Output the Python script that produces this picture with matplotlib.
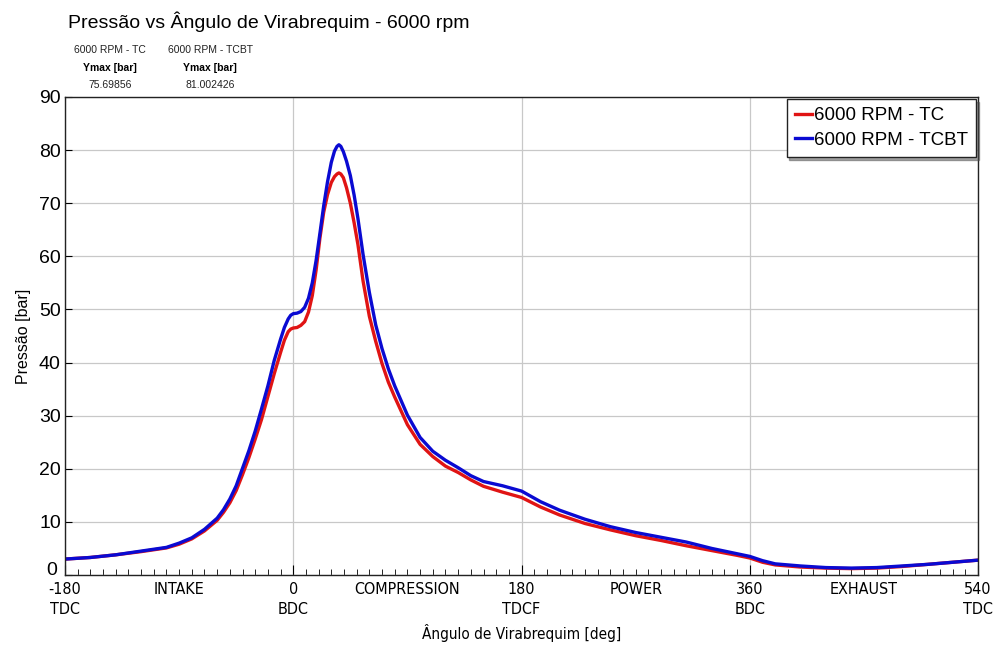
import matplotlib.pyplot as plt
from matplotlib import font_manager
from matplotlib.ticker import MultipleLocator, FixedLocator, FuncFormatter
import matplotlib.transforms as mtransforms

# crank angle [deg] shared by both runs
angle = [-180, -160, -140, -120, -100, -90, -80, -70, -60, -55, -50, -45, -40, -35, -30,
         -25, -20, -15, -10, -7, -4, -2, 0, 3, 6, 9, 12, 15, 18, 21, 24, 27, 30, 32.5, 34.5,
         36, 37.5, 39.5, 42, 45, 48, 51, 55, 60, 65, 70, 75, 80, 90, 100, 110, 120, 130,
         140, 150, 165, 180, 195, 210, 230, 250, 270, 290, 310, 330, 350, 360, 370, 380,
         400, 420, 440, 460, 480, 500, 520, 540]

# cylinder pressure [bar]
p_tc = [3.0, 3.3, 3.8, 4.4, 5.1, 5.8, 6.8, 8.3, 10.3, 11.8, 13.6, 15.9, 18.9, 22.1, 25.6,
        29.3, 33.6, 37.9, 41.9, 44.2, 45.8, 46.3, 46.5, 46.6, 47.0, 47.7, 49.5, 52.6, 57.4,
        63.4, 68.3, 71.6, 73.9, 75.0, 75.5, 75.69856, 75.5, 74.8, 72.9, 70.0, 66.3, 62.2,
        55.4, 48.7, 44.0, 39.8, 36.3, 33.5, 28.3, 24.6, 22.3, 20.5, 19.3, 17.9, 16.7, 15.6,
        14.6, 12.8, 11.3, 9.7, 8.5, 7.4, 6.5, 5.5, 4.6, 3.7, 3.2, 2.4, 1.9, 1.5, 1.3, 1.2,
        1.3, 1.6, 2.0, 2.4, 2.8]

p_tcbt = [3.0, 3.3, 3.8, 4.5, 5.2, 6.0, 7.0, 8.6, 10.7, 12.3, 14.3, 16.8, 20.1, 23.4, 27.1,
          31.3, 35.6, 40.4, 44.4, 46.6, 48.2, 48.9, 49.2, 49.3, 49.6, 50.4, 52.1, 55.0, 59.2,
          64.3, 69.5, 74.0, 77.7, 79.8, 80.7, 81.002426, 80.7, 79.7, 77.9, 75.2, 71.5, 67.1,
          60.4, 53.2, 47.1, 42.6, 38.8, 35.6, 30.1, 25.9, 23.3, 21.6, 20.2, 18.7, 17.6, 16.8,
          15.8, 13.8, 12.2, 10.5, 9.1, 8.0, 7.1, 6.2, 5.0, 4.0, 3.5, 2.7, 2.1, 1.7, 1.4, 1.3,
          1.4, 1.7, 2.0, 2.4, 2.8]

series_names = ['6000 RPM - TC', '6000 RPM - TCBT']
ymax_values = ['75.69856', '81.002426']

stroke_ticks = [-180, 0, 180, 360, 540]
stroke_labels = ['-180\nTDC', '0\nBDC', '180\nTDCF', '360\nBDC', '540\nTDC']
phase_pos = [-90, 90, 270, 450]
phase_names = ['INTAKE', 'COMPRESSION', 'POWER', 'EXHAUST']

plt.rcParams['font.family'] = ['Liberation Sans', 'DejaVu Sans']

# narrow face for the crank-angle axis, if one is installed
installed = font_manager.fontManager.ttflist
if any(f.name == 'Liberation Sans Narrow' for f in installed):
    narrow = dict(family='Liberation Sans Narrow', fontsize=13)
elif any(f.name == 'DejaVu Sans' and f.stretch == 'condensed' for f in installed):
    narrow = dict(family='DejaVu Sans', stretch='condensed', fontsize=11.5)
else:
    narrow = dict(family='Liberation Sans', fontsize=11.5)

fig = plt.figure(figsize=(9.98, 6.46), dpi=100)
ax = fig.add_axes([0.0651, 0.1099, 0.915, 0.74])

ax.plot(angle, p_tc, color='#e01414', lw=2.4, label=series_names[0])
ax.plot(angle, p_tcbt, color='#0a0ad2', lw=2.4, label=series_names[1])

ax.set_xlim(-180, 540)
ax.set_ylim(0, 90)

ax.yaxis.set_major_locator(MultipleLocator(10))
# the "0" is written separately, a bit higher, so it clears the -180 below it
ax.yaxis.set_major_formatter(FuncFormatter(lambda v, pos: '' if v == 0 else f'{v:g}'))
ax.annotate('0', xy=(0, 0), xycoords=('axes fraction', 'data'), xytext=(-5.5, 3),
            textcoords='offset points', ha='right', va='center', fontsize=14)

ax.xaxis.set_major_locator(FixedLocator(stroke_ticks))
ax.xaxis.set_minor_locator(MultipleLocator(10))
ax.set_xticklabels(stroke_labels, linespacing=1.45, **narrow)
ax.tick_params(axis='x', which='major', direction='in', length=7, pad=5)
ax.tick_params(axis='x', which='minor', direction='in', length=4)
ax.tick_params(axis='y', direction='in', length=5, labelsize=14, pad=3)
ax.tick_params(top=False, right=False)

ax.grid(True, axis='both', which='major', color='#c8c8c8', lw=0.9)
ax.set_axisbelow(True)
for s in ax.spines.values():
    s.set_color('#222222')
    s.set_linewidth(1.0)

# stroke names between the dead centres
trans = mtransforms.blended_transform_factory(ax.transData, ax.transAxes)
for xpos, name in zip(phase_pos, phase_names):
    ax.text(xpos, -0.0145, name, transform=trans, ha='center', va='top', **narrow)

xl = dict(narrow)
xl['fontsize'] = narrow['fontsize'] - 0.5
ax.set_xlabel('Ângulo de Virabrequim [deg]', labelpad=5, **xl)
ax.set_ylabel('Pressão [bar]', fontsize=11.5, labelpad=6)

leg = ax.legend(loc='upper right', borderaxespad=0.1, fontsize=13.5, handlelength=0.9,
                handletextpad=0.1, borderpad=0.45, labelspacing=0.4, fancybox=False,
                shadow=True, framealpha=1)
leg.get_frame().set_edgecolor('#222222')
leg.get_frame().set_linewidth(1.0)

fig.text(0.068, 0.966, 'Pressão vs Ângulo de Virabrequim - 6000 rpm', fontsize=14,
         va='center', ha='left')

# peak summary above the plot
for xc, name, val in zip([0.110, 0.2105], series_names, ymax_values):
    fig.text(xc, 0.922, name, fontsize=7.5, ha='center', va='center', color='#222222')
    fig.text(xc, 0.894, 'Ymax [bar]', fontsize=7.5, ha='center', va='center', weight='bold')
    fig.text(xc, 0.869, val, fontsize=7.5, ha='center', va='center', color='#222222')

fig.savefig('out.png', dpi=100)
